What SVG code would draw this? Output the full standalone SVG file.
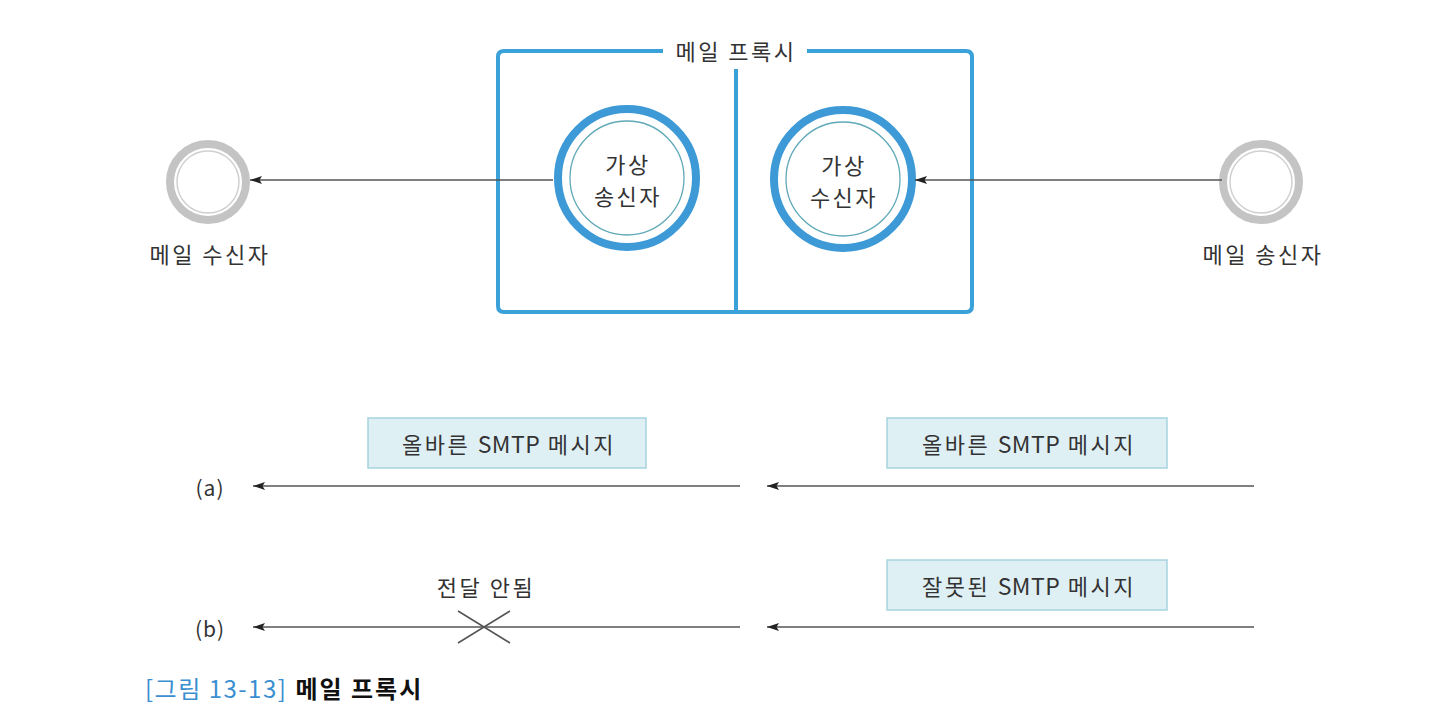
<svg xmlns="http://www.w3.org/2000/svg" width="1438" height="724" viewBox="0 0 1438 724">
<style>
text{font-family:"Noto Sans CJK KR","Noto Sans",sans-serif;fill:#333;}
.t{font-size:22px;letter-spacing:2.5px;text-anchor:middle;dominant-baseline:central;}
.lat{letter-spacing:0.5px;font-size:23px;}
.line{stroke:#555;stroke-width:1.6;fill:none;}
.ring{fill:#fff;stroke:#3d9ad6;stroke-width:8;}
.inner{fill:none;stroke:#5fa9b8;stroke-width:1.3;}
.gring{fill:#fff;stroke:#c4c4c4;stroke-width:8;}
.ginner{fill:none;stroke:#d0d0d0;stroke-width:1.5;}
.msg{fill:#dff0f5;stroke:#a6d3de;stroke-width:1.5;}
.proxy{fill:none;stroke:#3aa2d8;stroke-width:4;}
</style>
<defs>
<marker id="ah" viewBox="0 0 12 10" refX="12" refY="5" markerWidth="12" markerHeight="10" markerUnits="userSpaceOnUse" orient="auto">
<path d="M12,5 L0,1 L2.5,5 L0,9 Z" fill="#222"/>
</marker>
</defs>
<rect width="1438" height="724" fill="#fff"/>

<g id="proxy">
<path class="proxy" d="M663,51 H504 Q498,51 498,57 V306 Q498,312 504,312 H966 Q972,312 972,306 V57 Q972,51 966,51 H807"/>
<line class="proxy" x1="736" y1="69" x2="736" y2="312"/>
<text class="t" x="736" y="50">메일 프록시</text>
</g>

<g id="virtual-sender">
<circle cx="629" cy="181" r="69" fill="#000" opacity="0.08"/>
<circle class="ring" cx="627" cy="178" r="69"/>
<circle class="inner" cx="627" cy="178" r="57"/>
<text class="t" x="628" y="163">가상</text>
<text class="t" x="628" y="195">송신자</text>
</g>

<g id="virtual-receiver">
<circle cx="845" cy="182" r="69" fill="#000" opacity="0.08"/>
<circle class="ring" cx="843" cy="179" r="69"/>
<circle class="inner" cx="843" cy="179" r="57"/>
<text class="t" x="844" y="164">가상</text>
<text class="t" x="844" y="196">수신자</text>
</g>

<g id="mail-receiver">
<circle class="gring" cx="208" cy="182" r="38"/>
<circle class="ginner" cx="208" cy="182" r="31"/>
<text class="t" x="210" y="253">메일 수신자</text>
</g>

<g id="mail-sender">
<circle class="gring" cx="1261" cy="182" r="38"/>
<circle class="ginner" cx="1261" cy="182" r="31"/>
<text class="t" x="1263" y="253">메일 송신자</text>
</g>

<g id="msg-a-left">
<rect class="msg" x="368" y="418" width="278" height="50"/>
<text class="t" x="509" y="443">올바른 <tspan class="lat">SMTP</tspan> 메시지</text>
</g>
<g id="msg-a-right">
<rect class="msg" x="887" y="418" width="280" height="50"/>
<text class="t" x="1029" y="443">올바른 <tspan class="lat">SMTP</tspan> 메시지</text>
</g>
<g id="msg-b-right">
<rect class="msg" x="887" y="560" width="280" height="50"/>
<text class="t" x="1029" y="585">잘못된 <tspan class="lat">SMTP</tspan> 메시지</text>
</g>
<g id="labels">
<text class="t" x="210" y="487" style="font-size:21px;letter-spacing:1px">(a)</text>
<text class="t" x="210" y="628" style="font-size:21px;letter-spacing:1px">(b)</text>
<text class="t" x="486" y="586">전달 안됨</text>
</g>

<g id="connectors">
<line class="line" x1="553" y1="180" x2="250" y2="180" marker-end="url(#ah)"/>
<line class="line" x1="1222" y1="180" x2="915" y2="180" marker-end="url(#ah)"/>
<line class="line" x1="740" y1="486" x2="253" y2="486" marker-end="url(#ah)"/>
<line class="line" x1="1254" y1="486" x2="767" y2="486" marker-end="url(#ah)"/>
<line class="line" x1="740" y1="627" x2="253" y2="627" marker-end="url(#ah)"/>
<line class="line" x1="1254" y1="627" x2="767" y2="627" marker-end="url(#ah)"/>
<line class="line" x1="458" y1="611" x2="510" y2="643"/>
<line class="line" x1="458" y1="643" x2="510" y2="611"/>
</g>

<g id="caption">
<text x="145" y="698" style="font-size:24px"><tspan style="fill:#3a8fd0;letter-spacing:1.5px">[그림 13-13]</tspan><tspan font-weight="bold" style="fill:#111;letter-spacing:2px" dx="8">메일 프록시</tspan></text>
</g>
</svg>
